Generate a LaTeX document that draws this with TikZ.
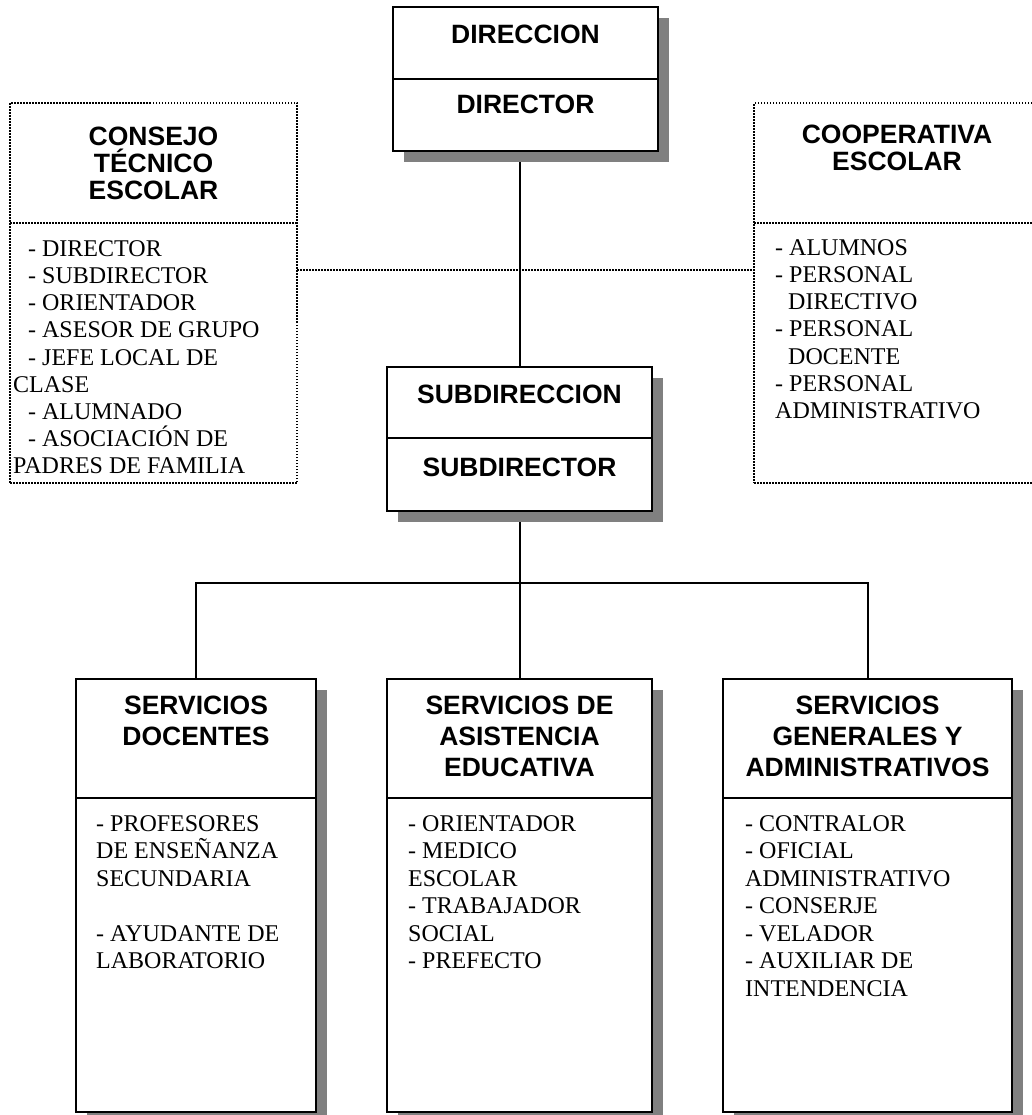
\documentclass[tikz,border=0pt]{standalone}
\usepackage{fontspec}
\setmainfont{Liberation Serif}
\setsansfont{Liberation Sans}
\usetikzlibrary{shadows}
\pgfdeclarelayer{back}
\pgfdeclarelayer{bg}
\pgfsetlayers{back,bg,main}
\definecolor{shadowgray}{HTML}{808080}
\newcommand\fs{\rule{0pt}{20pt}}
\begin{document}
\begin{tikzpicture}[x=1pt,y=-1pt,
  solidbox/.style={draw=black, line width=2pt, fill=white, inner sep=0pt, outer sep=0pt,
     drop shadow={shadow xshift=11pt, shadow yshift=-11pt, fill=shadowgray, opacity=1}},
  dotbox/.style={draw=black, line width=1.5pt, dash pattern=on 1.5pt off 1.5pt, inner sep=0pt, outer sep=0pt},
  link/.style={draw=black, line width=2pt},
  dotlink/.style={draw=black, line width=1.5pt, dash pattern=on 1.5pt off 1.5pt},
  ttl/.style={font=\sffamily\bfseries\fontsize{26.5}{27}\selectfont, align=center, inner sep=0pt, anchor=north},
  ttlb/.style={font=\sffamily\bfseries\fontsize{26.5}{31}\selectfont, align=center, inner sep=0pt, anchor=north},
  bdy/.style={font=\rmfamily\fontsize{24}{27.2}\selectfont, align=left, inner sep=0pt, anchor=north west},
  bdyb/.style={font=\rmfamily\fontsize{24}{27.5}\selectfont, align=left, inner sep=0pt, anchor=north west},
]
\useasboundingbox (0,0) rectangle (1031,1115);
\begin{pgfonlayer}{back}
\fill[white] (0,0) rectangle (1031,1115);
\end{pgfonlayer}

% boxes
\node[solidbox, minimum width=265pt, minimum height=144pt] (dir) at (525.5,79) {};
\node[solidbox, minimum width=265pt, minimum height=144pt] (sub) at (519.5,439) {};
\node[dotbox, minimum width=287pt, minimum height=380pt] (cons) at (153.5,293) {};
\node[dotbox, minimum width=291pt, minimum height=380pt] (coop) at (899.5,293) {};
\node[solidbox, minimum width=240pt, minimum height=433pt] (doc) at (196,895.5) {};
\node[solidbox, minimum width=265pt, minimum height=433pt] (asi) at (519.5,895.5) {};
\node[solidbox, minimum width=289pt, minimum height=433pt] (gen) at (867.5,895.5) {};

% dividers
\draw[link] (dir.west) -- (dir.east);
\draw[link] (sub.west |- 0,438) -- (sub.east |- 0,438);
\draw[dotlink] (cons.west |- 0,223) -- (cons.east |- 0,223);
\draw[dotlink] (coop.west |- 0,223) -- (coop.east |- 0,223);
\foreach \n in {doc,asi,gen} \draw[link] (\n.west |- 0,798) -- (\n.east |- 0,798);

% connectors
\begin{pgfonlayer}{bg}
\coordinate (bus) at (0,583);
\coordinate (dotrow) at (0,270);
\draw[link] (dir.south -| sub.north) -- (sub.north);
\draw[link] (sub.south) -- (asi.north);
\draw[link] (doc.north) -- (doc.north |- bus) -- (gen.north |- bus) -- (gen.north);
\draw[dotlink] (cons.east |- dotrow) -- (coop.west |- dotrow);
\end{pgfonlayer}

% titles
\node[ttl] (t1) at (525.5,23) {\fs DIRECCION};
\node[ttl] (t2) at (525.5,93) {\fs DIRECTOR};
\node[ttl] (t3) at (519.5,383) {\fs SUBDIRECCION};
\node[ttl] (t4) at (519.5,456) {\fs SUBDIRECTOR};
\node[ttl] (t5) at (153.5,125) {\fs CONSEJO\\TÉCNICO\\ESCOLAR};
\node[ttl] (t6) at (897,123) {\fs COOPERATIVA\\ESCOLAR};
\node[ttlb] (t7) at (196,694) {\fs SERVICIOS\\DOCENTES};
\node[ttlb] (t8) at (519.5,694) {\fs SERVICIOS DE\\ASISTENCIA\\EDUCATIVA};
\node[ttlb] (t9) at (867.5,694) {\fs SERVICIOS\\GENERALES Y\\ADMINISTRATIVOS};

% bodies
\node[bdy] (b1) at (13,236) {\hspace*{15pt}\fs- DIRECTOR\\
\hspace*{15pt}- SUBDIRECTOR\\
\hspace*{15pt}- ORIENTADOR\\
\hspace*{15pt}- ASESOR DE GRUPO\\
\hspace*{15pt}- JEFE LOCAL DE\\
CLASE\\
\hspace*{15pt}- ALUMNADO\\
\hspace*{15pt}- ASOCIACIÓN DE\\
PADRES DE FAMILIA};
\node[bdy] (b2) at (775,235) {\fs- ALUMNOS\\
- PERSONAL\\
\hspace*{13pt}DIRECTIVO\\
- PERSONAL\\
\hspace*{13pt}DOCENTE\\
- PERSONAL\\
ADMINISTRATIVO};
\node[bdyb] (b3) at (96,811) {\fs- PROFESORES\\
DE ENSEÑANZA\\
SECUNDARIA\\
\mbox{}\\
- AYUDANTE DE\\
LABORATORIO};
\node[bdyb] (b4) at (408,811) {\fs- ORIENTADOR\\
- MEDICO\\
ESCOLAR\\
- TRABAJADOR\\
SOCIAL\\
- PREFECTO};
\node[bdyb] (b5) at (745,811) {\fs- CONTRALOR\\
- OFICIAL\\
ADMINISTRATIVO\\
- CONSERJE\\
- VELADOR\\
- AUXILIAR DE\\
INTENDENCIA};
\end{tikzpicture}
\end{document}
